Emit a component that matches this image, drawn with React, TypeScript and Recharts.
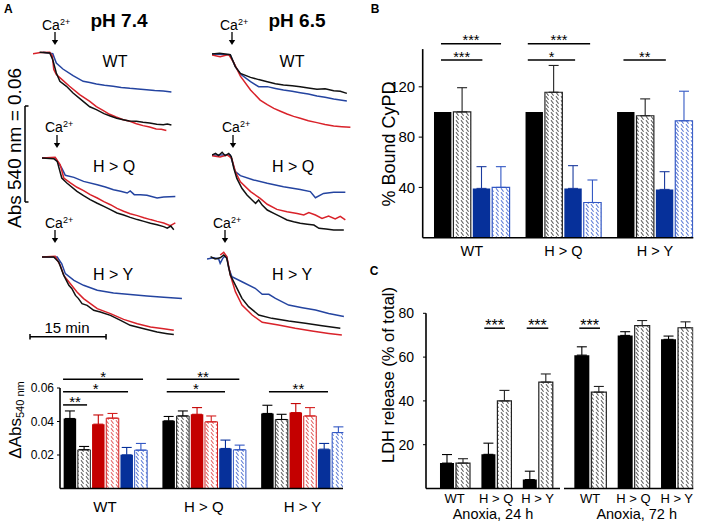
import React from 'react';
import { LineChart, Line, BarChart, Bar, XAxis, YAxis, ErrorBar, ReferenceLine } from 'recharts';

const FONT = '"Liberation Sans", Arial, Helvetica, sans-serif';

// ---------- Panel A traces (t in min, ΔAbs540 in mAU relative to start) ----------
const ph74WT_black = [[1.3,0.4],[3.3,0],[3.9,-4.2],[4.6,-12.5],[5.3,-17.7],[6.6,-20.8],[7.9,-25],[9.9,-30.2],[11.2,-33.6],[12.5,-35.4],[14,-37.9],[15.1,-39.2],[16.5,-40.8],[17.8,-41.7],[19,-42.5],[20.4,-42.7],[21.7,-43.3],[23.0,-43.8],[24.4,-44.6],[25.7,-44.8],[26.5,-44.4],[27.3,-45]];
const ph74WT_red = [[0,-0.4],[1.5,0.3],[3.3,0.4],[3.8,-1.7],[4.1,-10.4],[4.6,-13.5],[5.9,-17.1],[7.2,-20.8],[9.2,-26],[11.2,-30.2],[12.5,-33.5],[13.8,-35.8],[15.1,-38.3],[16.4,-40],[17.8,-41.7],[19.1,-42.7],[20.4,-44.2],[21.7,-45.4],[23,-46.3],[24.3,-47.5],[25.3,-47.7],[26.3,-48.5]];
const ph74WT_blue = [[2,0.4],[3.9,-0.4],[4.6,-6.3],[5.9,-10],[7.9,-14.2],[9.9,-17.7],[11.2,-18.5],[12.5,-19.4],[14.1,-20.2],[15.8,-20.8],[17.4,-21.5],[19.1,-22.1],[20.7,-22.5],[22.4,-22.9],[24,-23.5],[25.7,-23.8],[27.3,-24.4]];

const ph65WT_black = [[0,0],[1.5,0.4],[3.6,-0.4],[4.6,-7.9],[5.6,-12.1],[7.6,-14.6],[9.2,-16],[10.9,-17.3],[12.5,-18.6],[14.1,-19.4],[15.8,-19.8],[17.4,-20.4],[19,-21.2],[20.7,-22.1],[22.3,-21.7],[24,-22.9],[25.3,-23.3],[26.6,-24.6]];
const ph65WT_blue = [[0,0],[3.6,-0.4],[4.6,-7.9],[5.6,-12.5],[7.6,-17.3],[9.2,-20.4],[10.9,-20.4],[12.5,-21.5],[14.1,-22.5],[15.8,-23.3],[17.4,-24.2],[19,-25],[20.7,-26.3],[22.3,-27.1],[24,-28.1],[26.6,-29.4]];
const ph65WT_red = [[0,-0.6],[1.6,-1.7],[3.3,-0.4],[4.3,-5.4],[5.6,-13.8],[7.6,-22.5],[9.5,-28.8],[10.9,-31.7],[12.2,-34],[13.5,-35.8],[14.8,-37.5],[16.1,-39],[17.4,-40.2],[19,-41.7],[20.7,-42.9],[22.3,-44],[24,-45],[25.6,-45.4],[27.3,-45.8]];

const ph74HQ_black = [[0,0],[2.3,-0.4],[3,-2.1],[3.9,-12.5],[4.9,-15.6],[6.9,-20.8],[8.2,-23.5],[9.5,-26],[10.9,-28.3],[12.2,-30.2],[13.5,-32.3],[14.8,-34.4],[16.1,-35.6],[17.4,-37.1],[18.8,-38.5],[20.1,-39.6],[21.4,-40.8],[22.7,-41.7],[24,-42.9],[24.7,-43.8],[25.4,-42.5],[26,-44.8]];
const ph74HQ_red = [[0,0],[2.6,0.4],[3.6,-4.2],[4.3,-12.5],[5.6,-15.6],[6.9,-18.3],[8.2,-20.4],[9.5,-22.9],[10.9,-25],[12.2,-27.3],[13.5,-29.2],[14.8,-31.5],[16.1,-33.3],[17.4,-34.8],[18.8,-36],[20.1,-37.3],[21.4,-38.5],[22.7,-39.6],[24,-40.6],[25.3,-42.3],[26.3,-40.6]];
const ph74HQ_blue = [[0,0],[2.6,0],[3.9,-6.3],[4.6,-10.8],[6.3,-12.1],[8.2,-14.6],[10.9,-16.7],[12.5,-18.1],[14.1,-19.8],[15.5,-20.8],[16.8,-21.9],[17.4,-20.6],[18.2,-22.9],[19.4,-22.9],[20.7,-23.3],[22.7,-25],[24,-24.4],[26.3,-24]];

const ph65HQ_black = [[0,0],[0.7,1],[1.3,-0.4],[2,1.7],[2.6,-0.4],[3.3,1],[3.8,-1],[4.3,-8.3],[4.9,-14.6],[5.9,-20.8],[6.9,-25],[7.9,-28.1],[8.6,-30.2],[9.2,-28.1],[9.9,-31.3],[10.9,-34.4],[12.2,-36.5],[13.5,-38.5],[14.8,-40.6],[16.1,-41.7],[17.4,-42.7],[18.8,-43.3],[20.1,-43.8],[21.1,-45.8],[22.5,-46.3],[24,-46.9],[26,-46.9]];
const ph65HQ_red = [[0,-0.4],[1.6,-1.3],[3,0],[3.9,-2.1],[4.6,-10.4],[5.6,-16.7],[7.6,-22.9],[9.5,-27.1],[10.9,-30.8],[12.8,-34],[14.8,-35.4],[16.8,-36.5],[18.1,-37.5],[19.1,-36],[20.4,-37.5],[21.7,-39.6],[23,-38.1],[24.3,-40],[25.3,-38.3],[26.3,-40.6]];
const ph65HQ_blue = [[0,0],[3.6,0],[4.6,-10.4],[5.6,-12.9],[8.2,-15.6],[10.9,-17.7],[14.1,-19.8],[17.4,-21.5],[19.4,-22.9],[20.4,-26.7],[22,-24],[24,-23.3],[26.3,-23.3]];

const ph74HY_black = [[0,0],[2.3,0],[3.3,-3.1],[4.3,-11.5],[5.3,-17.7],[5.9,-19.8],[6.6,-24],[7.2,-26],[7.9,-29.2],[8.9,-30.2],[10.2,-33.3],[11.5,-34.4],[13.5,-36.5],[15.5,-39.6],[17.4,-42.7],[20.1,-44.8],[22.7,-46.9],[24.7,-47.9],[26,-48.5]];
const ph74HY_red = [[0,0],[2.6,0.4],[3.6,-5.2],[4.3,-11.5],[5.6,-16.7],[6.9,-21.9],[8.2,-26],[10.9,-32.3],[13.5,-35.4],[16.1,-39],[18.8,-41.7],[21.4,-43.8],[24,-44.8],[26,-45.8]];
const ph74HY_blue = [[0,0],[3,0],[3.9,-4.2],[4.6,-10.4],[6.3,-14.6],[8.2,-17.7],[10.9,-20.8],[14.1,-22.5],[17.4,-23.5],[20.7,-24.4],[24,-25.2],[27.6,-26]];

const ph65HY_blue = [[0,0],[1.3,0.8],[2.3,0],[2.6,-2.7],[3.1,0.4],[3.6,2.1],[3.9,1.3],[4.3,-5.8],[4.9,-11],[6.9,-14.2],[9.5,-18.3],[10.9,-22.1],[12.2,-22.1],[13.5,-24.6],[16.1,-28.8],[18.8,-30.4],[21.4,-31.9],[24,-34],[27,-36]];
const ph65HY_black = [[0.7,1.5],[1.6,0],[2.6,0.8],[3.3,2.5],[3.9,0.4],[4.6,-10],[5.6,-16.3],[6.9,-24.6],[8.2,-29.8],[10.2,-35],[12.8,-37.1],[16.1,-38.8],[19.4,-40.2],[22.7,-41.7],[26.3,-43.3]];
const ph65HY_red = [[2.6,2.5],[3.3,4.2],[3.9,1.5],[4.6,-10],[5.6,-20.4],[6.9,-28.8],[8.9,-35],[10.9,-39.6],[14.1,-41.3],[17.4,-43.3],[20.7,-45],[24,-46.5],[26.6,-47.5]];

// ---------- Bar data ----------
const groups = ['WT', 'H > Q', 'H > Y'];

// Panel A bottom: ΔAbs540 nm
const absBlack = [0.0418, 0.0404, 0.0448];
const absBlackErr = [0.0045, 0.0026, 0.0049];
const absBlackHatch = [0.0231, 0.0433, 0.0412];
const absBlackHatchErr = [0.0020, 0.0030, 0.0031];
const absRed = [0.0384, 0.0443, 0.0453];
const absRedErr = [0.0055, 0.0040, 0.0054];
const absRedHatch = [0.0420, 0.0398, 0.0433];
const absRedHatchErr = [0.0028, 0.0035, 0.0050];
const absBlue = [0.0201, 0.0239, 0.0235];
const absBlueErr = [0.0044, 0.0050, 0.0034];
const absBlueHatch = [0.0229, 0.0231, 0.0334];
const absBlueHatchErr = [0.0040, 0.0028, 0.0034];

// Panel B: % Bound CyPD
const cypdBlack = [100, 100, 100];
const cypdBlackHatch = [100, 115.7, 97];
const cypdBlackHatchErr = [19.3, 21.3, 13.4];
const cypdBlue = [39.2, 39.2, 38.4];
const cypdBlueErr = [17.3, 18.1, 14.1];
const cypdBlueHatch = [40, 28, 93];
const cypdBlueHatchErr = [16.5, 17.9, 23.5];

// Panel C: LDH release
const ldh24Black = [11.6, 15.6, 4.1];
const ldh24BlackErr = [3.9, 5.1, 3.8];
const ldh24Hatch = [11.6, 40, 48.6];
const ldh24HatchErr = [2.0, 4.8, 3.7];
const ldh72Black = [60.9, 69.9, 68.1];
const ldh72BlackErr = [3.8, 1.7, 1.5];
const ldh72Hatch = [44, 74.4, 73.4];
const ldh72HatchErr = [2.6, 2.3, 2.7];

// ---------- helpers ----------
const toPts = (arr: number[][]) => arr.map(([t, a]) => ({ t, a }));

const PX_PER_MIN = 5.07;
const PX_PER_MAU = 1.6;
const T_MAX = 30;
const A_MIN = -55;
const A_MAX = 5;

const TRACE_BLACK = '#111111';
const TRACE_RED = '#d9222a';
const TRACE_BLUE = '#2444a0';

const BAR_RED = '#c40000';
const BAR_BLUE = '#06309a';

function TraceChart({ x0, y0, black, red, blue }: any) {
  const w = T_MAX * PX_PER_MIN;
  const h = (A_MAX - A_MIN) * PX_PER_MAU;
  return (
    <div style={{ position: 'absolute', left: x0, top: y0 - A_MAX * PX_PER_MAU }}>
      <LineChart width={w} height={h} margin={{ top: 0, right: 0, bottom: 0, left: 0 }}>
        <XAxis type="number" dataKey="t" domain={[0, T_MAX]} hide allowDataOverflow />
        <YAxis type="number" dataKey="a" domain={[A_MIN, A_MAX]} hide allowDataOverflow />
        <Line data={toPts(blue)} dataKey="a" stroke={TRACE_BLUE} strokeWidth={1.5} dot={false} isAnimationActive={false} />
        <Line data={toPts(red)} dataKey="a" stroke={TRACE_RED} strokeWidth={1.5} dot={false} isAnimationActive={false} />
        <Line data={toPts(black)} dataKey="a" stroke={TRACE_BLACK} strokeWidth={1.5} dot={false} isAnimationActive={false} />
      </LineChart>
    </div>
  );
}

function Txt({ x, y, size, bold, anchor = 'middle', rotate, children, color = '#000' }: any) {
  const tx = anchor === 'middle' ? '-50%' : anchor === 'end' ? '-100%' : '0';
  return (
    <div
      style={{
        position: 'absolute', left: x, top: y,
        transform: `translate(${tx}, -50%)${rotate ? ` rotate(${rotate}deg)` : ''}`,
        fontSize: size, fontWeight: bold ? 'bold' : 'normal', lineHeight: 1,
        whiteSpace: 'nowrap', fontFamily: FONT, color,
      }}
    >
      {children}
    </div>
  );
}

function Ca({ x, y }: any) {
  return (
    <Txt x={x} y={y} size={14} anchor="start">
      Ca<span style={{ fontSize: 9, position: 'relative', top: -5 }}>2+</span>
    </Txt>
  );
}

function Arrow({ x, y1, y2 }: any) {
  const h = y2 - y1;
  return (
    <svg style={{ position: 'absolute', left: x - 5, top: y1 }} width={10} height={h + 1}>
      <line x1={5} y1={0} x2={5} y2={h - 4} stroke="#000" strokeWidth={1.3} />
      <polygon points={`1.8,${h - 5} 8.2,${h - 5} 5,${h}`} fill="#000" />
    </svg>
  );
}

const starLabel = (text: string, size: number, dy: number = 2.5) => (props: any) => {
  const vb = props.viewBox || {};
  const x = (vb.x ?? 0) + (vb.width ?? 0) / 2;
  const y = (vb.y ?? 0) + dy;
  return (
    <text x={x} y={y} textAnchor="middle" fontSize={size} fontFamily={FONT} fill="#000">
      {text}
    </text>
  );
};

const rowsA = groups.map((g, i) => ({
  x: i,
  k: absBlack[i], kE: [0, absBlackErr[i]],
  kh: absBlackHatch[i], khE: [0, absBlackHatchErr[i]],
  r: absRed[i], rE: [0, absRedErr[i]],
  rh: absRedHatch[i], rhE: [0, absRedHatchErr[i]],
  b: absBlue[i], bE: [0, absBlueErr[i]],
  bh: absBlueHatch[i], bhE: [0, absBlueHatchErr[i]],
}));

const rowsB = groups.map((g, i) => ({
  x: i,
  k: cypdBlack[i],
  kh: cypdBlackHatch[i], khE: [0, cypdBlackHatchErr[i]],
  b: cypdBlue[i], bE: [0, cypdBlueErr[i]],
  bh: cypdBlueHatch[i], bhE: [0, cypdBlueHatchErr[i]],
}));

const rowsC24 = groups.map((g, i) => ({
  x: i,
  k: ldh24Black[i], kE: [0, ldh24BlackErr[i]],
  kh: ldh24Hatch[i], khE: [0, ldh24HatchErr[i]],
}));
const rowsC72 = groups.map((g, i) => ({
  x: i,
  k: ldh72Black[i], kE: [0, ldh72BlackErr[i]],
  kh: ldh72Hatch[i], khE: [0, ldh72HatchErr[i]],
}));

const axisStroke = { stroke: '#000', strokeWidth: 1.6 };
const fmtGroup = (v: number) => groups[v] ?? '';

export default function App() {
  return (
    <div style={{ position: 'absolute', left: 0, top: 0, width: 709, height: 528, background: '#fff', overflow: 'hidden', fontFamily: FONT }}>
      <svg width={0} height={0} style={{ position: 'absolute' }}>
        <defs>
          <pattern id="hatchK" patternUnits="userSpaceOnUse" width={5} height={4}>
            <rect width={5} height={4} fill="#fff" />
            <path d="M1,0.3 L3.6,3.7" stroke="#555" strokeWidth={1.05} />
          </pattern>
          <pattern id="hatchR" patternUnits="userSpaceOnUse" width={5} height={4}>
            <rect width={5} height={4} fill="#fff" />
            <path d="M1,0.3 L3.6,3.7" stroke="#e35a5a" strokeWidth={1.05} />
          </pattern>
          <pattern id="hatchB" patternUnits="userSpaceOnUse" width={5} height={4}>
            <rect width={5} height={4} fill="#fff" />
            <path d="M1,0.3 L3.6,3.7" stroke="#5575d4" strokeWidth={1.05} />
          </pattern>
        </defs>
      </svg>

      {/* ---------------- Panel A ---------------- */}
      <Txt x={4} y={9} size={12} bold anchor="start">A</Txt>
      <Txt x={119} y={20} size={19} bold>pH 7.4</Txt>
      <Txt x={297} y={20} size={19} bold>pH 6.5</Txt>

      <Ca x={42} y={24.5} />
      <Arrow x={55} y1={32} y2={45} />
      <Ca x={220} y={24.5} />
      <Arrow x={232} y1={32} y2={45} />
      <Ca x={45} y={127} />
      <Arrow x={57} y1={135} y2={148} />
      <Ca x={222} y={127} />
      <Arrow x={233} y1={135} y2={148} />
      <Ca x={45} y={223} />
      <Arrow x={55} y1={230} y2={243} />
      <Ca x={213} y={223} />
      <Arrow x={225} y1={230} y2={243} />

      <TraceChart x0={33.3} y0={53.3} black={ph74WT_black} red={ph74WT_red} blue={ph74WT_blue} />
      <TraceChart x0={211.7} y0={54} black={ph65WT_black} red={ph65WT_red} blue={ph65WT_blue} />
      <TraceChart x0={41.7} y0={158.3} black={ph74HQ_black} red={ph74HQ_red} blue={ph74HQ_blue} />
      <TraceChart x0={211.7} y0={155} black={ph65HQ_black} red={ph65HQ_red} blue={ph65HQ_blue} />
      <TraceChart x0={41.7} y0={256.7} black={ph74HY_black} red={ph74HY_red} blue={ph74HY_blue} />
      <TraceChart x0={206.7} y0={259} black={ph65HY_black} red={ph65HY_red} blue={ph65HY_blue} />

      <Txt x={115} y={62} size={16}>WT</Txt>
      <Txt x={292} y={62} size={16}>WT</Txt>
      <Txt x={114} y={167} size={16}>H &gt; Q</Txt>
      <Txt x={293} y={167} size={16}>H &gt; Q</Txt>
      <Txt x={113} y={275} size={16}>H &gt; Y</Txt>
      <Txt x={292} y={275} size={16}>H &gt; Y</Txt>

      {/* scale bars */}
      <svg style={{ position: 'absolute', left: 0, top: 0 }} width={130} height={345}>
        <line x1={25} y1={106} x2={25} y2={106 + 60 * PX_PER_MAU} stroke="#000" strokeWidth={1.5} />
        <line x1={25} y1={106} x2={28.5} y2={106} stroke="#000" strokeWidth={1.5} />
        <line x1={25} y1={106 + 60 * PX_PER_MAU} x2={28.5} y2={106 + 60 * PX_PER_MAU} stroke="#000" strokeWidth={1.5} />
        <line x1={30} y1={336.7} x2={30 + 15 * PX_PER_MIN} y2={336.7} stroke="#000" strokeWidth={1.5} />
        <line x1={30} y1={334} x2={30} y2={339.4} stroke="#000" strokeWidth={1.5} />
        <line x1={30 + 15 * PX_PER_MIN} y1={334} x2={30 + 15 * PX_PER_MIN} y2={339.4} stroke="#000" strokeWidth={1.5} />
      </svg>
      <Txt x={14} y={147.5} size={19} rotate={-90}>Abs 540 nm = 0.06</Txt>
      <Txt x={67} y={327} size={15}>15 min</Txt>

      {/* bottom bar chart of A */}
      <div style={{ position: 'absolute', left: 0, top: 360 }}>
        <BarChart width={360} height={168} data={rowsA} margin={{ top: 28, right: 17, left: 0, bottom: 9.5 }} barGap={1.7}>
          <XAxis dataKey="x" type="number" domain={[-0.456, 2.41]} ticks={[0, 1, 2]} tickFormatter={fmtGroup}
            allowDataOverflow interval={0} tickLine={false} tickSize={0} tickMargin={13}
            axisLine={axisStroke} tick={{ fill: '#000', fontSize: 15, fontFamily: FONT }} height={30} />
          <YAxis domain={[0, 0.06]} ticks={[0.02, 0.04, 0.06]} tickFormatter={(v: number) => v.toFixed(2)} width={60}
            tickSize={3} tickMargin={3} axisLine={axisStroke} tickLine={{ stroke: '#000' }}
            tick={{ fill: '#000', fontSize: 12, fontFamily: FONT }} allowDataOverflow />
          <Bar dataKey="k" fill="#000" barSize={12.5} isAnimationActive={false}>
            <ErrorBar dataKey="kE" width={5} stroke="#000" strokeWidth={1.1} direction="y" />
          </Bar>
          <Bar dataKey="kh" fill="url(#hatchK)" stroke="#222" strokeWidth={1} barSize={12.5} isAnimationActive={false}>
            <ErrorBar dataKey="khE" width={5} stroke="#000" strokeWidth={1.1} direction="y" />
          </Bar>
          <Bar dataKey="r" fill={BAR_RED} barSize={12.5} isAnimationActive={false}>
            <ErrorBar dataKey="rE" width={5} stroke={BAR_RED} strokeWidth={1.1} direction="y" />
          </Bar>
          <Bar dataKey="rh" fill="url(#hatchR)" stroke="#d42020" strokeWidth={1} barSize={12.5} isAnimationActive={false}>
            <ErrorBar dataKey="rhE" width={5} stroke="#d42020" strokeWidth={1.1} direction="y" />
          </Bar>
          <Bar dataKey="b" fill={BAR_BLUE} barSize={12.5} isAnimationActive={false}>
            <ErrorBar dataKey="bE" width={5} stroke={BAR_BLUE} strokeWidth={1.1} direction="y" />
          </Bar>
          <Bar dataKey="bh" fill="url(#hatchB)" stroke="#3358c4" strokeWidth={1} barSize={12.5} isAnimationActive={false}>
            <ErrorBar dataKey="bhE" width={5} stroke="#3358c4" strokeWidth={1.1} direction="y" />
          </Bar>
          <ReferenceLine segment={[{ x: -0.425, y: 0.0499 }, { x: -0.182, y: 0.0499 }]} stroke="#000" strokeWidth={1.5} ifOverflow="visible" label={starLabel('**', 15)} />
          <ReferenceLine segment={[{ x: -0.425, y: 0.0578 }, { x: 0.233, y: 0.0578 }]} stroke="#000" strokeWidth={1.5} ifOverflow="visible" label={starLabel('*', 15)} />
          <ReferenceLine segment={[{ x: -0.425, y: 0.0652 }, { x: 0.385, y: 0.0652 }]} stroke="#000" strokeWidth={1.5} ifOverflow="visible" label={starLabel('*', 15)} />
          <ReferenceLine segment={[{ x: 0.625, y: 0.0652 }, { x: 1.36, y: 0.0652 }]} stroke="#000" strokeWidth={1.5} ifOverflow="visible" label={starLabel('**', 15)} />
          <ReferenceLine segment={[{ x: 0.625, y: 0.0578 }, { x: 1.215, y: 0.0578 }]} stroke="#000" strokeWidth={1.5} ifOverflow="visible" label={starLabel('*', 15)} />
          <ReferenceLine segment={[{ x: 1.66, y: 0.0578 }, { x: 2.258, y: 0.0578 }]} stroke="#000" strokeWidth={1.5} ifOverflow="visible" label={starLabel('**', 15)} />
        </BarChart>
      </div>
      <Txt x={15} y={420} size={17} rotate={-90}>
        ΔAbs<span style={{ fontSize: 11, position: 'relative', top: 3 }}>540 nm</span>
      </Txt>

      {/* ---------------- Panel B ---------------- */}
      <Txt x={375} y={9} size={12} bold>B</Txt>
      <div style={{ position: 'absolute', left: 360, top: 0 }}>
        <BarChart width={349} height={270} data={rowsB} margin={{ top: 49.1, right: 15.7, left: 0, bottom: 7.3 }} barGap={2}>
          <XAxis dataKey="x" type="number" domain={[-0.536, 2.42]} ticks={[0, 1, 2]} tickFormatter={fmtGroup}
            allowDataOverflow interval={0} tickLine={false} tickSize={0} tickMargin={8.2}
            axisLine={axisStroke} tick={{ fill: '#000', fontSize: 14.5, fontFamily: FONT }} height={25} />
          <YAxis domain={[0, 150]} ticks={[40, 80, 120]} width={62.7}
            tickSize={4} tickMargin={3.5} axisLine={axisStroke} tickLine={{ stroke: '#000' }}
            tick={{ fill: '#000', fontSize: 15, fontFamily: FONT }} allowDataOverflow />
          <Bar dataKey="k" fill="#000" barSize={17.4} isAnimationActive={false} />
          <Bar dataKey="kh" fill="url(#hatchK)" stroke="#222" strokeWidth={1.2} barSize={17.4} isAnimationActive={false}>
            <ErrorBar dataKey="khE" width={5} stroke="#222" strokeWidth={1.1} direction="y" />
          </Bar>
          <Bar dataKey="b" fill={BAR_BLUE} barSize={17.4} isAnimationActive={false}>
            <ErrorBar dataKey="bE" width={5} stroke="#1b3b9e" strokeWidth={1.1} direction="y" />
          </Bar>
          <Bar dataKey="bh" fill="url(#hatchB)" stroke="#3358c4" strokeWidth={1.2} barSize={17.4} isAnimationActive={false}>
            <ErrorBar dataKey="bhE" width={5} stroke="#3358c4" strokeWidth={1.1} direction="y" />
          </Bar>
          <ReferenceLine segment={[{ x: -0.336, y: 154.3 }, { x: 0.32, y: 154.3 }]} stroke="#000" strokeWidth={1.5} ifOverflow="visible" label={starLabel('***', 14.5, 1.5)} />
          <ReferenceLine segment={[{ x: -0.336, y: 141.3 }, { x: 0.116, y: 141.3 }]} stroke="#000" strokeWidth={1.5} ifOverflow="visible" label={starLabel('***', 14.5, 1.5)} />
          <ReferenceLine segment={[{ x: 0.612, y: 154.3 }, { x: 1.293, y: 154.3 }]} stroke="#000" strokeWidth={1.5} ifOverflow="visible" label={starLabel('***', 14.5, 1.5)} />
          <ReferenceLine segment={[{ x: 0.612, y: 141.3 }, { x: 1.129, y: 141.3 }]} stroke="#000" strokeWidth={1.5} ifOverflow="visible" label={starLabel('*', 14.5, 1.5)} />
          <ReferenceLine segment={[{ x: 1.657, y: 141.3 }, { x: 2.12, y: 141.3 }]} stroke="#000" strokeWidth={1.5} ifOverflow="visible" label={starLabel('**', 14.5, 1.5)} />
        </BarChart>
      </div>
      <Txt x={388.5} y={143.5} size={18} rotate={-90}>% Bound CyPD</Txt>

      {/* ---------------- Panel C ---------------- */}
      <Txt x={374} y={270.5} size={12} bold>C</Txt>
      <div style={{ position: 'absolute', left: 360, top: 260 }}>
        <BarChart width={210} height={268} data={rowsC24} margin={{ top: 53.3, right: 10, left: 0, bottom: 19.5 }} barGap={2}>
          <XAxis dataKey="x" type="number" domain={[-0.693, 2.543]} ticks={[0, 1, 2]} tickFormatter={fmtGroup}
            allowDataOverflow interval={0} tickLine={false} tickSize={0} tickMargin={5.2}
            axisLine={axisStroke} tick={{ fill: '#000', fontSize: 13, fontFamily: FONT }} height={20} />
          <YAxis domain={[0, 80]} ticks={[20, 40, 60, 80]} width={66}
            tickSize={3} tickMargin={9} axisLine={axisStroke} tickLine={{ stroke: '#000' }}
            tick={{ fill: '#000', fontSize: 14, fontFamily: FONT }} allowDataOverflow />
          <Bar dataKey="k" fill="#000" barSize={14} isAnimationActive={false}>
            <ErrorBar dataKey="kE" width={5} stroke="#000" strokeWidth={1.1} direction="y" />
          </Bar>
          <Bar dataKey="kh" fill="url(#hatchK)" stroke="#222" strokeWidth={1.2} barSize={14} isAnimationActive={false}>
            <ErrorBar dataKey="khE" width={5} stroke="#222" strokeWidth={1.1} direction="y" />
          </Bar>
          <ReferenceLine segment={[{ x: 0.715, y: 73.2 }, { x: 1.215, y: 73.2 }]} stroke="#000" strokeWidth={1.5} ifOverflow="visible" label={starLabel('***', 16)} />
          <ReferenceLine segment={[{ x: 1.739, y: 73.2 }, { x: 2.26, y: 73.2 }]} stroke="#000" strokeWidth={1.5} ifOverflow="visible" label={starLabel('***', 16)} />
        </BarChart>
      </div>
      <div style={{ position: 'absolute', left: 560, top: 260 }}>
        <BarChart width={149} height={268} data={rowsC72} margin={{ top: 53.3, right: 15.7, left: 4, bottom: 19.5 }} barGap={2}>
          <XAxis dataKey="x" type="number" domain={[-0.6, 2.383]} ticks={[0, 1, 2]} tickFormatter={fmtGroup}
            allowDataOverflow interval={0} tickLine={false} tickSize={0} tickMargin={5.2}
            axisLine={axisStroke} tick={{ fill: '#000', fontSize: 13, fontFamily: FONT }} height={20} />
          <YAxis domain={[0, 80]} hide allowDataOverflow />
          <Bar dataKey="k" fill="#000" barSize={15} isAnimationActive={false}>
            <ErrorBar dataKey="kE" width={5} stroke="#000" strokeWidth={1.1} direction="y" />
          </Bar>
          <Bar dataKey="kh" fill="url(#hatchK)" stroke="#222" strokeWidth={1.2} barSize={15} isAnimationActive={false}>
            <ErrorBar dataKey="khE" width={5} stroke="#222" strokeWidth={1.1} direction="y" />
          </Bar>
          <ReferenceLine segment={[{ x: -0.247, y: 73.2 }, { x: 0.23, y: 73.2 }]} stroke="#000" strokeWidth={1.5} ifOverflow="visible" label={starLabel('***', 16)} />
        </BarChart>
      </div>
      <Txt x={388} y={374.5} size={16.5} rotate={-90}>LDH release (% of total)</Txt>
      <Txt x={493} y={514} size={14.5}>Anoxia, 24 h</Txt>
      <Txt x={636.7} y={514} size={14.5}>Anoxia, 72 h</Txt>
    </div>
  );
}
